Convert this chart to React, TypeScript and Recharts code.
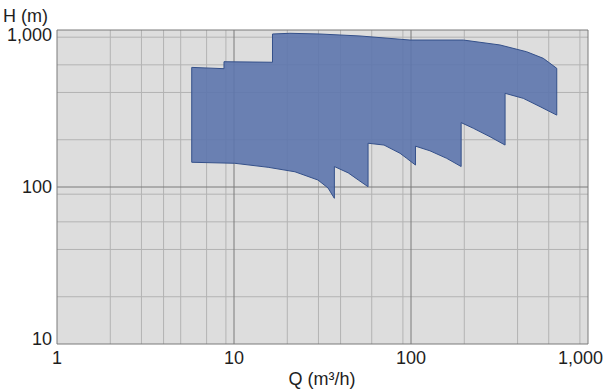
import {
  ScatterChart,
  Scatter,
  XAxis,
  YAxis,
  CartesianGrid,
  Label,
} from 'recharts';

// outline of the pump range, clockwise from bottom-left (Q in m3/h, H in m)
const flowQ = [
  5.77, 5.77, 8.78, 8.78, 16.5, 16.5, 20.7, 30.6, 51.5, 98.7, 197.5, 318, 450, 559,
  666, 666, 536, 431, 340, 340, 279.5, 225, 192, 192, 159, 128, 106, 106, 94.6, 86.7,
  70.4, 57.2, 57.2, 50.4, 44.2, 36.9, 36.9, 34.0, 29.8, 22.1, 15.6, 10.1, 5.77,
];
const headH = [
  143.7, 578, 567, 628, 623, 943, 953, 943, 916, 863, 863, 803, 727, 660, 570, 287,
  325, 367, 395, 185, 209, 236.6, 257, 135, 152.3, 170, 182, 138, 152.3, 164, 185,
  190, 100.4, 110.8, 123, 135, 84.7, 98.5, 110.8, 125, 133.5, 141.6, 143.7,
];

const qTicks = [1, 10, 100, 1000];
const hTicks = [10, 100, 1000];
const qMinor = [2, 3, 4, 5, 6, 7, 8, 9, 20, 30, 40, 50, 60, 70, 80, 90, 200, 300, 400, 500, 600, 700, 800, 900];
const hMinor = [20, 30, 40, 50, 60, 70, 80, 90, 200, 300, 400, 500, 600, 700, 800, 900];

const outline = flowQ.map((q, i) => ({ q, h: headH[i] }));

const FONT = '"Liberation Sans", Arial, sans-serif';
const fmt = (v: number) => v.toLocaleString('en-US');

const YTick = (props: any) => {
  const { y, payload } = props;
  const v = payload.value;
  const dy = v === 1000 ? 5 : v === 10 ? -5 : 0;
  return (
    <text x={52} y={y + dy} textAnchor="end" dominantBaseline="central" fontSize={18} fill="#1e1e1e" fontFamily={FONT}>
      {fmt(v)}
    </text>
  );
};

const XTick = (props: any) => {
  const { x, y, payload } = props;
  const v = payload.value;
  const last = v === 1000;
  return (
    <text
      x={last ? 603 : x}
      y={y + 6}
      textAnchor={last ? 'end' : 'middle'}
      dominantBaseline="central"
      fontSize={18}
      fill="#1e1e1e"
      fontFamily={FONT}
    >
      {fmt(v)}
    </text>
  );
};

export default function App() {
  return (
    <div style={{ position: 'absolute', left: 0, top: 0, width: 608, height: 391, background: '#fff' }}>
      <ScatterChart width={608} height={391} margin={{ top: 30, right: 20, left: 0, bottom: 0 }}>
        <CartesianGrid
          fill="#dddddd"
          stroke="#b3b3b3"
          horizontalValues={hMinor}
          verticalValues={qMinor}
        />
        <CartesianGrid fill="none" stroke="#7a7a7a" horizontalValues={hTicks} verticalValues={qTicks} />
        <XAxis
          dataKey="q"
          type="number"
          scale="log"
          domain={[1, 1000]}
          ticks={qTicks}
          allowDataOverflow
          axisLine={false}
          tickLine={false}
          tick={<XTick />}
          height={47}
        >
          <Label
            content={() => (
              <text x={322} y={379} textAnchor="middle" dominantBaseline="central" fontSize={18} fill="#1e1e1e" fontFamily={FONT}>
                Q (m³/h)
              </text>
            )}
          />
        </XAxis>
        <YAxis
          dataKey="h"
          type="number"
          scale="log"
          domain={[10, 1000]}
          ticks={hTicks}
          allowDataOverflow
          axisLine={false}
          tickLine={false}
          tick={<YTick />}
          width={57}
        >
          <Label
            content={() => (
              <text x={3} y={16} textAnchor="start" dominantBaseline="central" fontSize={18} fill="#1e1e1e" fontFamily={FONT}>
                H (m)
              </text>
            )}
          />
        </YAxis>
        <Scatter
          data={outline}
          isAnimationActive={false}
          shape={() => <g />}
          line={{ fill: '#5d76ad', fillOpacity: 0.9, stroke: '#34508a', strokeWidth: 1 }}
          lineJointType="linear"
        />
      </ScatterChart>
    </div>
  );
}
